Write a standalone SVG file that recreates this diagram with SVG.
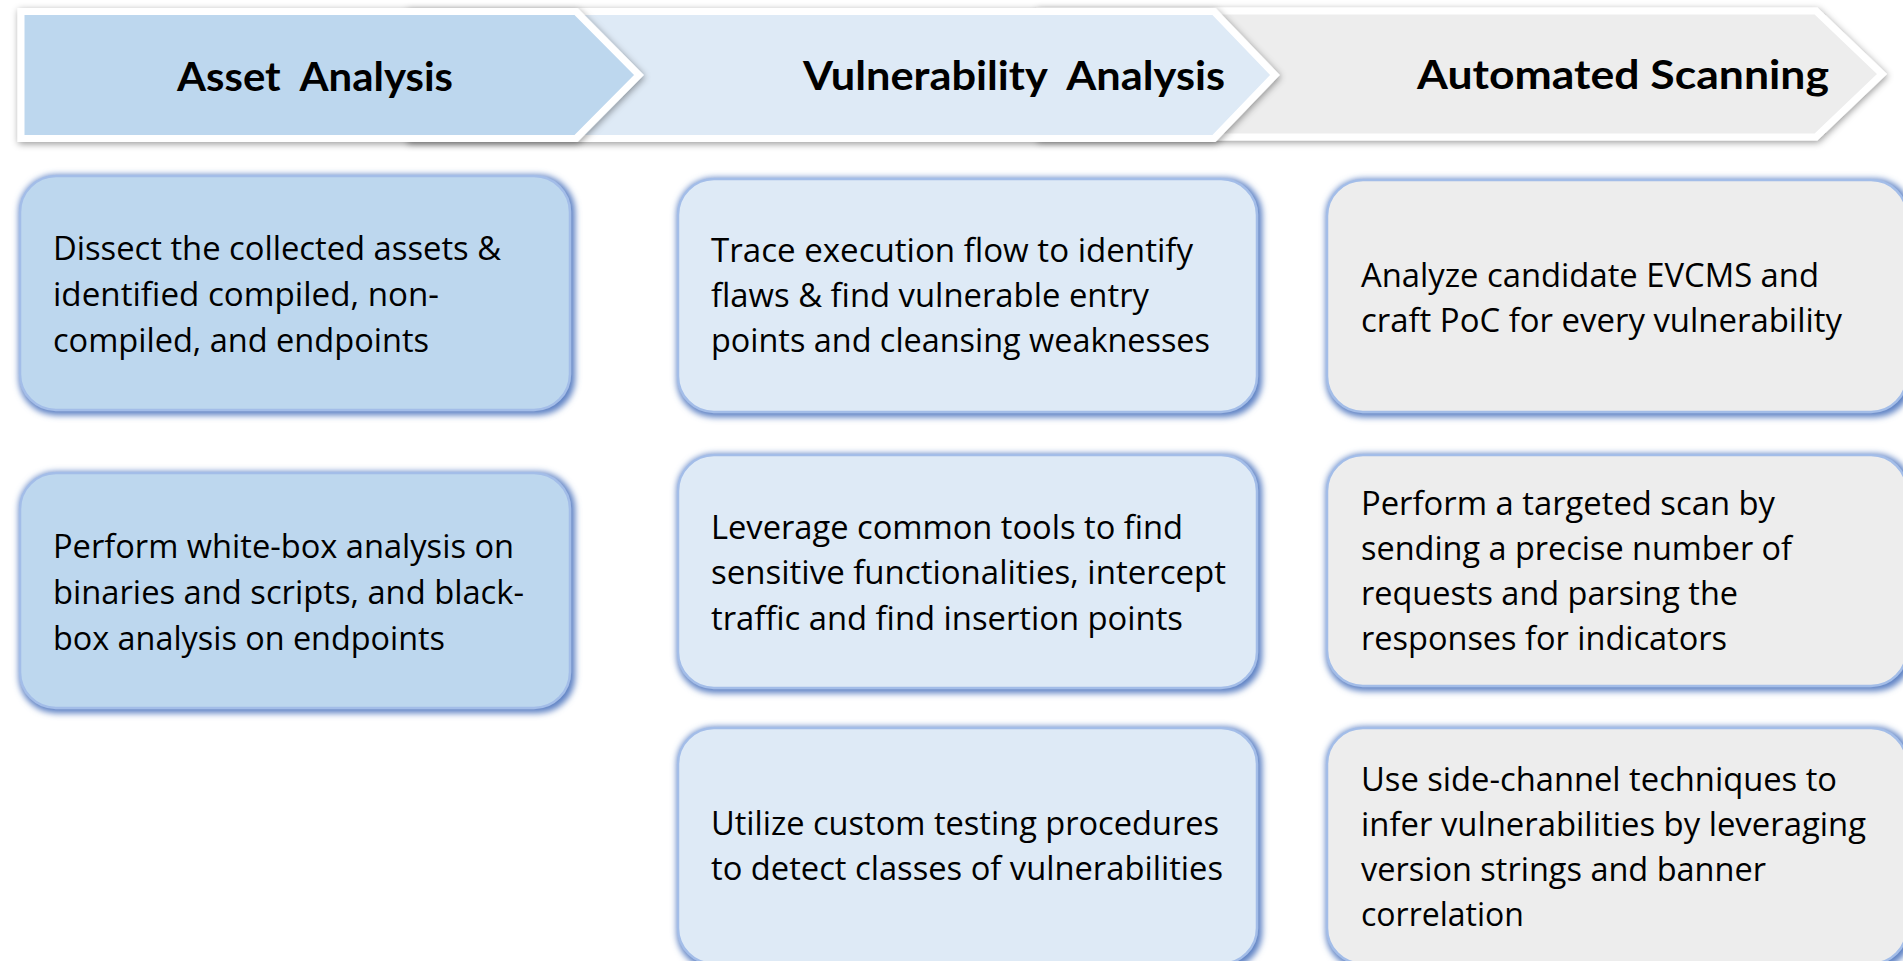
<svg xmlns="http://www.w3.org/2000/svg" width="1903" height="961" viewBox="0 0 1903 961">
  <defs>
    <!-- soft drop shadow under the phase arrows -->
    <filter id="chevShadow" x="-5%" y="-30%" width="110%" height="160%">
      <feGaussianBlur in="SourceAlpha" stdDeviation="3.5"/>
      <feOffset dx="1" dy="2" result="b"/>
      <feFlood flood-color="#000" flood-opacity="0.4"/>
      <feComposite in2="b" operator="in"/>
      <feMerge><feMergeNode/><feMergeNode in="SourceGraphic"/></feMerge>
    </filter>
    <!-- blue soft edge around the step cards -->
    <filter id="boxGlow" x="-5%" y="-10%" width="110%" height="120%">
      <feMorphology in="SourceAlpha" operator="dilate" radius="2" result="d"/>
      <feGaussianBlur in="d" stdDeviation="3" result="b"/>
      <feOffset in="b" dx="2" dy="2" result="o"/>
      <feFlood flood-color="#5E82C4"/>
      <feComposite in2="o" operator="in" result="s"/>
      <feMerge><feMergeNode in="s"/><feMergeNode in="SourceGraphic"/></feMerge>
    </filter>
  </defs>
  <style>
    .chev { stroke: #ffffff; stroke-width: 7; stroke-linejoin: miter; filter: url(#chevShadow); }
    .head { font-family: Lato, "Liberation Sans", sans-serif; font-weight: 700; font-size: 41px; fill: #000; }
    .card { stroke: #A3BDE8; stroke-width: 2.5; filter: url(#boxGlow); }
    .body { font-family: "Open Sans", "Liberation Sans", sans-serif; font-size: 33px; fill: #000; }
    .c1 { fill: #BDD7EE; }
    .c2 { fill: #DEEAF6; }
    .c3 { fill: #EDEDED; }
  </style>

  <rect width="1903" height="961" fill="#ffffff"/>

  <!-- phase arrows, drawn right to left so each tip overlaps the next -->
  <g id="phase-automated-scanning">
    <polygon class="chev c3" points="1040,11 1816,11 1882,74 1816,137 1040,137"/>
    <text class="head" x="1417" y="89" textLength="412" lengthAdjust="spacingAndGlyphs">Automated Scanning</text>
  </g>
  <g id="phase-vulnerability-analysis">
    <polygon class="chev c2" points="410,11.5 1214,11.5 1275,75 1214,138.5 410,138.5"/>
    <text class="head" x="803" y="90" textLength="422" lengthAdjust="spacingAndGlyphs">Vulnerability&#160; Analysis</text>
  </g>
  <g id="phase-asset-analysis">
    <polygon class="chev c1" points="21,11.5 576,11.5 639,75 576,138.5 21,138.5"/>
    <text class="head" x="177" y="91" textLength="276" lengthAdjust="spacingAndGlyphs">Asset&#160; Analysis</text>
  </g>

  <!-- Asset Analysis steps -->
  <g id="asset-1">
    <rect class="card c1" x="20" y="176" width="550" height="234" rx="36"/>
    <text class="body" x="53" y="260" textLength="448" lengthAdjust="spacingAndGlyphs">Dissect the collected assets &amp;</text>
    <text class="body" x="53" y="306" textLength="386" lengthAdjust="spacingAndGlyphs">identified compiled, non-</text>
    <text class="body" x="53" y="352" textLength="376" lengthAdjust="spacingAndGlyphs">compiled, and endpoints</text>
  </g>
  <g id="asset-2">
    <rect class="card c1" x="20" y="473" width="550" height="235" rx="36"/>
    <text class="body" x="53" y="558" textLength="461" lengthAdjust="spacingAndGlyphs">Perform white-box analysis on</text>
    <text class="body" x="53" y="604" textLength="471" lengthAdjust="spacingAndGlyphs">binaries and scripts, and black-</text>
    <text class="body" x="53" y="650" textLength="392" lengthAdjust="spacingAndGlyphs">box analysis on endpoints</text>
  </g>

  <!-- Vulnerability Analysis steps -->
  <g id="vuln-1">
    <rect class="card c2" x="678" y="179" width="579" height="233" rx="36"/>
    <text class="body" x="711" y="262" textLength="482" lengthAdjust="spacingAndGlyphs">Trace execution flow to identify</text>
    <text class="body" x="711" y="307" textLength="438" lengthAdjust="spacingAndGlyphs">flaws &amp; find vulnerable entry</text>
    <text class="body" x="711" y="352" textLength="499" lengthAdjust="spacingAndGlyphs">points and cleansing weaknesses</text>
  </g>
  <g id="vuln-2">
    <rect class="card c2" x="678" y="455" width="579" height="233" rx="36"/>
    <text class="body" x="711" y="539" textLength="472" lengthAdjust="spacingAndGlyphs">Leverage common tools to find</text>
    <text class="body" x="711" y="584" textLength="515" lengthAdjust="spacingAndGlyphs">sensitive functionalities, intercept</text>
    <text class="body" x="711" y="630" textLength="472" lengthAdjust="spacingAndGlyphs">traffic and find insertion points</text>
  </g>
  <g id="vuln-3">
    <rect class="card c2" x="678" y="728" width="579" height="236" rx="36"/>
    <text class="body" x="711" y="835" textLength="508" lengthAdjust="spacingAndGlyphs">Utilize custom testing procedures</text>
    <text class="body" x="711" y="880" textLength="512" lengthAdjust="spacingAndGlyphs">to detect classes of vulnerabilities</text>
  </g>

  <!-- Automated Scanning steps -->
  <g id="scan-1">
    <rect class="card c3" x="1327" y="180" width="580" height="232" rx="36"/>
    <text class="body" x="1361" y="287" textLength="458" lengthAdjust="spacingAndGlyphs">Analyze candidate EVCMS and</text>
    <text class="body" x="1361" y="332" textLength="481" lengthAdjust="spacingAndGlyphs">craft PoC for every vulnerability</text>
  </g>
  <g id="scan-2">
    <rect class="card c3" x="1327" y="455" width="580" height="231" rx="36"/>
    <text class="body" x="1361" y="515" textLength="414" lengthAdjust="spacingAndGlyphs">Perform a targeted scan by</text>
    <text class="body" x="1361" y="560" textLength="431" lengthAdjust="spacingAndGlyphs">sending a precise number of</text>
    <text class="body" x="1361" y="605" textLength="377" lengthAdjust="spacingAndGlyphs">requests and parsing the</text>
    <text class="body" x="1361" y="650" textLength="366" lengthAdjust="spacingAndGlyphs">responses for indicators</text>
  </g>
  <g id="scan-3">
    <rect class="card c3" x="1327" y="728" width="580" height="236" rx="36"/>
    <text class="body" x="1361" y="791" textLength="476" lengthAdjust="spacingAndGlyphs">Use side-channel techniques to</text>
    <text class="body" x="1361" y="836" textLength="505" lengthAdjust="spacingAndGlyphs">infer vulnerabilities by leveraging</text>
    <text class="body" x="1361" y="881" textLength="405" lengthAdjust="spacingAndGlyphs">version strings and banner</text>
    <text class="body" x="1361" y="926" textLength="163" lengthAdjust="spacingAndGlyphs">correlation</text>
  </g>
</svg>
